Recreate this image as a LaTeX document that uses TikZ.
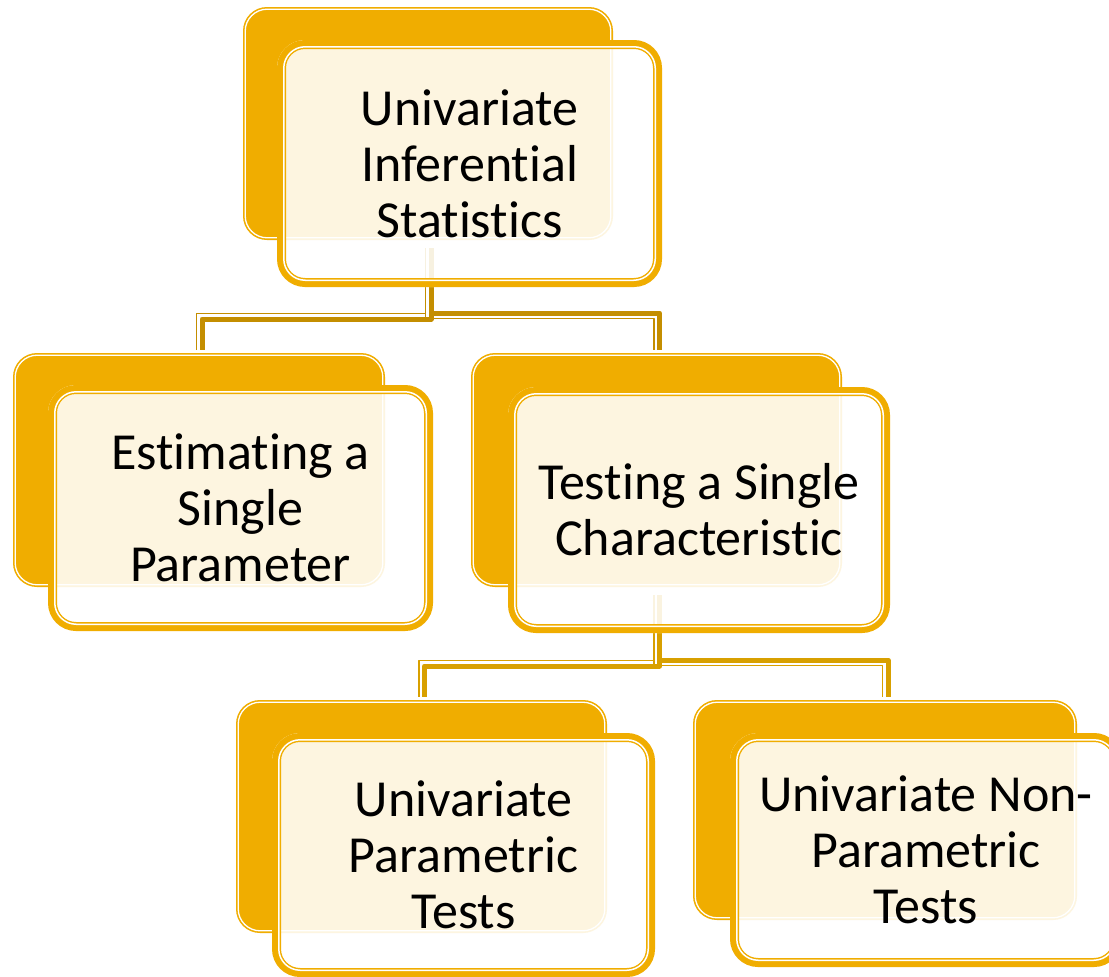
\documentclass[tikz,border=0pt]{standalone}
\usepackage{fontspec}
\setmainfont{Carlito}[Ligatures=NoCommon]
\usetikzlibrary{calc}

\definecolor{amber}{HTML}{F0AD00}
\definecolor{linkdark}{HTML}{C48E00}
\definecolor{linklight}{HTML}{D8A000}

\pgfdeclarelayer{paper}
\pgfdeclarelayer{links}
\pgfsetlayers{paper,links,main}

\tikzset{
  backbox/.style={rectangle, inner sep=0pt, outer sep=0pt, fill=amber, rounded corners=24pt},
  frontbox/.style={rectangle, inner sep=0pt, outer sep=0pt, fill=white, fill opacity=0.88,
    text opacity=1, rounded corners=28pt, align=center, font=\fontsize{52}{56}\selectfont},
  thickrule/.style={line width=5pt, line join=round},
  thinrule/.style={line width=1.8pt, line join=round},
}

% white rim just inside the edge of a filled back card
\newcommand\backrim[1]{%
  \draw[white, line width=1.3pt, rounded corners=22pt]
    ($(#1.north west)+(2.2,2.2)$) rectangle ($(#1.south east)-(2.2,2.2)$);}

% heavy amber frame with an inner white hairline for a front card
\newcommand\frontrim[1]{%
  \draw[amber, line width=9pt, rounded corners=23.5pt]
    ($(#1.north west)+(4.5,4.5)$) rectangle ($(#1.south east)-(4.5,4.5)$);
  \draw[white, line width=1.5pt, rounded corners=21.5pt]
    ($(#1.north west)+(6.75,6.75)$) rectangle ($(#1.south east)-(6.75,6.75)$);}

% elbow link: #1 style, #2 parent card, #3 child card, #4 bar level,
% #5 sideways shift of the vertical runs, #6 shift of the horizontal run
\newcommand\branch[6]{%
  \draw[#1] let \p1=(#2.south), \p2=(#3.north), \p3=(#4) in
    (\x1+#5,\y1-8pt) -- (\x1+#5,\y3+#6) -- (\x2+#5,\y3+#6) -- (\x2+#5,\y2+3pt);}

\begin{document}
\begin{tikzpicture}[x=1pt,y=-1pt]
\useasboundingbox (0,0) rectangle (1109,977);
\begin{pgfonlayer}{paper}
  \fill[white] (0,0) rectangle (1109,977);
\end{pgfonlayer}

% root
\node[backbox, minimum width=370, minimum height=233] (rootB) at (428,123.5) {};
\backrim{rootB}
\node[frontbox, minimum width=385, minimum height=247] (root) at (469.5,163.5)
  {Univariate\\Inferential\\Statistics};
\frontrim{root}

% second level
\node[backbox, minimum width=372, minimum height=234] (estB) at (199,470) {};
\backrim{estB}
\node[frontbox, minimum width=385, minimum height=246] (est) at (240.5,508)
  {Estimating a\\Single\\Parameter};
\frontrim{est}

\node[backbox, minimum width=371, minimum height=234] (testB) at (656.5,470) {};
\backrim{testB}
\node[frontbox, minimum width=382, minimum height=246] (test) at (699,510)
  {Testing a Single\\Characteristic};
\frontrim{test}

% third level
\node[backbox, minimum width=371, minimum height=233] (parB) at (421.5,816.5) {};
\backrim{parB}
\node[frontbox, minimum width=383, minimum height=244] (par) at (463.5,855)
  {Univariate\\Parametric\\Tests};
\frontrim{par}

\node[backbox, minimum width=384, minimum height=220] (nonparB) at (885,810) {};
\backrim{nonparB}
\node[frontbox, minimum width=392, minimum height=234] (nonpar) at (926,850)
  {Univariate Non-\\Parametric\\Tests};
\frontrim{nonpar}

% links, drawn beneath the cards
\coordinate (bar1) at ($(rootB.south)+(0,76)$);
\coordinate (bar2) at ($(testB.south)+(0,76)$);
\begin{pgfonlayer}{links}
  \branch{thinrule,linkdark}{rootB}{estB}{bar1}{-2.5pt}{2.5pt}
  \branch{thinrule,linkdark}{rootB}{testB}{bar1}{-2.5pt}{-2.5pt}
  \branch{thickrule,linkdark}{rootB}{estB}{bar1}{3pt}{-3pt}
  \branch{thickrule,linkdark}{rootB}{testB}{bar1}{3pt}{3pt}

  \branch{thinrule,linklight}{testB}{parB}{bar2}{-2.5pt}{2.5pt}
  \branch{thinrule,linklight}{testB}{nonparB}{bar2}{-2.5pt}{-2.5pt}
  \branch{thickrule,linklight}{testB}{parB}{bar2}{3pt}{-3pt}
  \branch{thickrule,linklight}{testB}{nonparB}{bar2}{3pt}{3pt}
\end{pgfonlayer}
\end{tikzpicture}
\end{document}
